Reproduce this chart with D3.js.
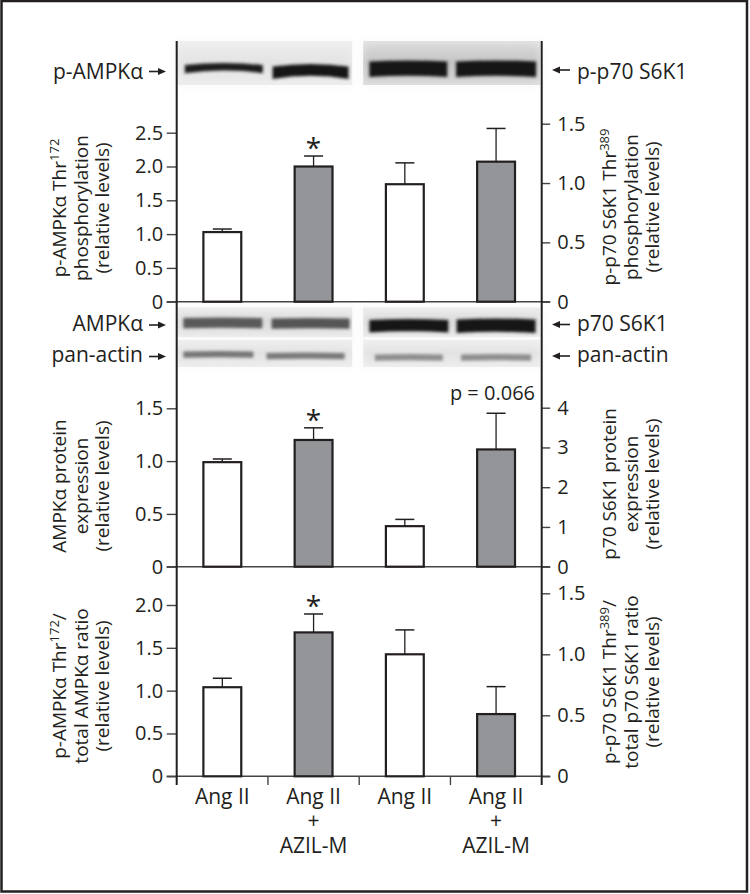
<!DOCTYPE html>
<html>
<head>
<meta charset="utf-8">
<script src="https://cdn.jsdelivr.net/npm/d3@7"></script>
<style>
  html, body { margin: 0; padding: 0; background: #fff; }
  svg { display: block; font-family: "Open Sans", "Noto Sans", sans-serif; }
</style>
</head>
<body>
<svg id="chart" width="750" height="894"></svg>
<script>
// ---------------- DATA ----------------
const categories = ["Ang II", "Ang II|+|AZIL-M", "Ang II", "Ang II|+|AZIL-M"];
const barFill = ["white", "gray", "white", "gray"];
const barAxis = ["left", "left", "right", "right"];

// Panel 1: phosphorylation (left: p-AMPKα, right: p-p70 S6K1)
const p1Values = [1.03, 2.00, 0.99, 1.18];
const p1Errors = [0.045, 0.155, 0.18, 0.28];
const p1LeftTicks = [0, 0.5, 1.0, 1.5, 2.0, 2.5];
const p1LeftLabels = ["0", "0.5", "1.0", "1.5", "2.0", "2.5"];
const p1RightTicks = [0, 0.5, 1.0, 1.5];
const p1RightLabels = ["0", "0.5", "1.0", "1.5"];

// Panel 2: protein expression
const p2Values = [0.99, 1.20, 1.02, 2.95];
const p2Errors = [0.03, 0.115, 0.17, 0.91];
const p2LeftTicks = [0, 0.5, 1.0, 1.5];
const p2LeftLabels = ["0", "0.5", "1.0", "1.5"];
const p2RightTicks = [0, 1, 2, 3, 4];
const p2RightLabels = ["0", "1", "2", "3", "4"];

// Panel 3: ratio
const p3Values = [1.04, 1.68, 1.00, 0.51];
const p3Errors = [0.105, 0.215, 0.20, 0.225];
const p3LeftTicks = [0, 0.5, 1.0, 1.5, 2.0];
const p3LeftLabels = ["0", "0.5", "1.0", "1.5", "2.0"];
const p3RightTicks = [0, 0.5, 1.0, 1.5];
const p3RightLabels = ["0", "0.5", "1.0", "1.5"];

const p1Stars = ["", "*", "", ""];
const p2Stars = ["", "*", "", ""];
const p3Stars = ["", "*", "", ""];
const pValueNote = "p = 0.066";

// ---------------- LAYOUT ----------------
const svg = d3.select("#chart");
const INK = "#231f20";
const GRAY = "#939598";
const xL = 176.7, xR = 541.7;
const axisTop = 41, axisBottom = 785;

const x = d3.scaleBand().domain(d3.range(categories.length)).range([xL, xR]).padding(0);
const barW = x.bandwidth() * 0.415;
const cx = i => x(i) + x.bandwidth() / 2;

// frame
svg.append("rect").attr("x", 1.5).attr("y", 1).attr("width", 745.5).attr("height", 890.5)
  .attr("fill", "none").attr("stroke", INK).attr("stroke-width", 2.5);

// blur filter for blot bands
const defs = svg.append("defs");
const f = defs.append("filter").attr("id", "blur").attr("x", "-20%").attr("y", "-100%").attr("width", "140%").attr("height", "300%");
f.append("feGaussianBlur").attr("stdDeviation", 1.8);
const f2 = defs.append("filter").attr("id", "blur2").attr("x", "-20%").attr("y", "-50%").attr("width", "140%").attr("height", "200%");
f2.append("feGaussianBlur").attr("stdDeviation", 3);

function gradient(id, stops) {
  const g = defs.append("linearGradient").attr("id", id).attr("x1", 0).attr("y1", 0).attr("x2", 0).attr("y2", 1);
  stops.forEach(s => g.append("stop").attr("offset", s[0]).attr("stop-color", s[1]));
}
gradient("bgLight", [[0, "#eeeeee"], [0.5, "#e3e3e3"], [1, "#ececec"]]);
gradient("bgDark", [[0, "#dddddd"], [0.5, "#c4c4c4"], [1, "#d6d6d6"]]);
gradient("bgMid", [[0, "#ebebeb"], [0.5, "#dcdcdc"], [1, "#e8e8e8"]]);

// ---- Blots ----
const blotLeftX = [xL + 0.5, x(2) - 7];
const blotRightX = [x(2) + 4, xR - 1.5];

function blot(x0, x1, y0, y1, bg, lanes) {
  const g = svg.append("g");
  g.append("rect").attr("x", x0).attr("y", y0).attr("width", x1 - x0).attr("height", y1 - y0)
    .attr("fill", `url(#${bg})`);
  // faint lane separator haze
  g.append("rect").attr("x", x0).attr("y", y0).attr("width", x1 - x0).attr("height", y1 - y0)
    .attr("fill", "none").attr("stroke", "#f2f2f2").attr("stroke-width", 2).attr("filter", "url(#blur2)");
  lanes.forEach(l => {
    const xa = l.c - l.w / 2, xb = l.c + l.w / 2, yc = l.y, t = l.t, bend = l.bend || 0;
    const p = d3.path();
    p.moveTo(xa, yc - t / 2 + bend);
    p.quadraticCurveTo((xa + xb) / 2, yc - t / 2 - bend, xb, yc - t / 2 + bend);
    p.lineTo(xb, yc + t / 2 + bend * 1.6);
    p.quadraticCurveTo((xa + xb) / 2, yc + t / 2 - bend, xa, yc + t / 2 + bend * 1.6);
    p.closePath();
    g.append("path").attr("d", p.toString()).attr("fill", l.col).attr("filter", "url(#blur)");
  });
}

// p-AMPKα / p-p70 S6K1 blots
blot(blotLeftX[0], blotLeftX[1], 41, 85, "bgLight", [
  { c: cx(0) + 1.5, w: 78, y: 66.5, t: 7, col: "#1c1c1c", bend: 2 },
  { c: cx(1) - 3, w: 76, y: 69.5, t: 11, col: "#121212", bend: 2.5 }
]);
blot(blotRightX[0], blotRightX[1], 41, 85, "bgDark", [
  { c: cx(2) + 3.5, w: 78, y: 68, t: 15, col: "#141414", bend: 1 },
  { c: cx(3), w: 80, y: 68, t: 15, col: "#121212", bend: 1 }
]);
// AMPKα / p70 S6K1 blots
blot(blotLeftX[0], blotLeftX[1], 307.5, 337, "bgMid", [
  { c: cx(0) + 0.5, w: 79, y: 322.5, t: 10, col: "#5a5a5a", bend: 0.5 },
  { c: cx(1) - 3, w: 78, y: 323, t: 10, col: "#555555", bend: 0.5 }
]);
blot(blotRightX[0], blotRightX[1], 307.5, 337, "bgMid", [
  { c: cx(2) + 4, w: 79, y: 325, t: 12, col: "#121212", bend: 1 },
  { c: cx(3), w: 79, y: 325, t: 13, col: "#121212", bend: 1 }
]);
// pan-actin blots
blot(blotLeftX[0], blotLeftX[1], 340, 367, "bgLight", [
  { c: cx(0) - 4, w: 70, y: 354, t: 6, col: "#767676", bend: 0.5 },
  { c: cx(1) - 8, w: 78, y: 355.5, t: 6, col: "#7a7a7a", bend: 0.5 }
]);
blot(blotRightX[0], blotRightX[1], 340, 367, "bgLight", [
  { c: cx(2) + 4, w: 68, y: 357, t: 6, col: "#8e8e8e", bend: 0.5 },
  { c: cx(3), w: 70, y: 357, t: 6, col: "#8e8e8e", bend: 0.5 }
]);

// blot labels with arrows
function arrow(xTail, xHead, y) {
  const dir = Math.sign(xHead - xTail);
  svg.append("line").attr("x1", xTail).attr("x2", xHead - dir * 5).attr("y1", y).attr("y2", y)
    .attr("stroke", INK).attr("stroke-width", 1.6);
  svg.append("path").attr("d", `M${xHead},${y} L${xHead - dir * 8},${y - 3.6} L${xHead - dir * 8},${y + 3.6} Z`)
    .attr("fill", INK);
}
const leftLabels = [["p-AMPKα", 79, 71.5], ["AMPKα", 331, 325], ["pan-actin", 361.5, 356.5]];
leftLabels.forEach(([t, yb, ya]) => {
  svg.append("text").attr("x", 143).attr("y", yb).attr("text-anchor", "end")
    .attr("font-size", 21).attr("fill", INK).text(t);
  arrow(149, 166, ya);
});
const rightLabels = [["p-p70 S6K1", 78.5, 70], ["p70 S6K1", 331, 324.5], ["pan-actin", 361.5, 356]];
rightLabels.forEach(([t, yb, ya]) => {
  svg.append("text").attr("x", 577).attr("y", yb).attr("text-anchor", "start")
    .attr("font-size", 21).attr("fill", INK).text(t);
  arrow(570, 552, ya);
});

// ---- Panels ----
const panels = [
  { values: p1Values, errors: p1Errors, stars: p1Stars,
    y0: 301.7, lDom: [0, 2.5], lTop: 132.7, rDom: [0, 1.5], rTop: 123.7,
    lTicks: p1LeftTicks, lLabels: p1LeftLabels, rTicks: p1RightTicks, rLabels: p1RightLabels,
    lTitle: [[["p-AMPKα Thr"], ["172", 1]], [["phosphorylation"]], [["(relative levels)"]]], lCy: 208,
    rTitle: [[["p-p70 S6K1 Thr"], ["389", 1]], [["phosphorylation"]], [["(relative levels)"]]], rCy: 207 },
  { values: p2Values, errors: p2Errors, stars: p2Stars,
    y0: 566.7, lDom: [0, 1.5], lTop: 408.3, rDom: [0, 4], rTop: 407.7,
    lTicks: p2LeftTicks, lLabels: p2LeftLabels, rTicks: p2RightTicks, rLabels: p2RightLabels,
    lTitle: [[["AMPKα protein"]], [["expression"]], [["(relative levels)"]]], lCy: 486,
    rTitle: [[["p70 S6K1 protein"]], [["expression"]], [["(relative levels)"]]], rCy: 484 },
  { values: p3Values, errors: p3Errors, stars: p3Stars,
    y0: 776.3, lDom: [0, 2.0], lTop: 605, rDom: [0, 1.5], rTop: 593.3,
    lTicks: p3LeftTicks, lLabels: p3LeftLabels, rTicks: p3RightTicks, rLabels: p3RightLabels,
    lTitle: [[["p-AMPKα Thr"], ["172", 1], ["/", 2]], [["total AMPKα ratio"]], [["(relative levels)"]]], lCy: 686,
    rTitle: [[["p-p70 S6K1 Thr"], ["389", 1], ["/", 2]], [["total p70 S6K1 ratio"]], [["(relative levels)"]]], rCy: 682 }
];

function title(cy, baselines, lines) {
  const g = svg.append("g").attr("transform", `translate(0,${cy}) rotate(-90)`);
  lines.forEach((segs, i) => {
    const t = g.append("text").attr("x", 0).attr("y", baselines[i]).attr("text-anchor", "middle")
      .attr("font-size", 19).attr("fill", INK);
    segs.forEach(([s, kind]) => {
      const ts = t.append("tspan").text(s);
      if (kind === 1) ts.attr("dy", -7).attr("font-size", 13);
      if (kind === 2) ts.attr("dy", 7);
    });
  });
}

panels.forEach(P => {
  const yL = d3.scaleLinear().domain(P.lDom).range([P.y0, P.lTop]);
  const yR = d3.scaleLinear().domain(P.rDom).range([P.y0, P.rTop]);
  const yOf = i => barAxis[i] === "left" ? yL : yR;

  // axes ticks
  const gl = svg.append("g").attr("transform", `translate(${xL},0)`)
    .call(d3.axisLeft(yL).tickValues(P.lTicks).tickFormat((d, i) => P.lLabels[i]).tickSize(10).tickPadding(3.5));
  const gr = svg.append("g").attr("transform", `translate(${xR},0)`)
    .call(d3.axisRight(yR).tickValues(P.rTicks).tickFormat((d, i) => P.rLabels[i]).tickSize(8.5).tickPadding(7));
  [gl, gr].forEach(g => {
    g.select(".domain").remove();
    g.selectAll("line").attr("stroke", "#444").attr("stroke-width", 1.4);
    g.selectAll("text").attr("font-size", 20).attr("fill", INK)
      .attr("font-family", '"Open Sans", "Noto Sans", sans-serif');
  });

  // baseline
  svg.append("line").attr("x1", xL - 10).attr("x2", xR + 8.5).attr("y1", P.y0).attr("y2", P.y0)
    .attr("stroke", "#444").attr("stroke-width", 1.4);

  // error bars (upper only)
  P.values.forEach((v, i) => {
    const y = yOf(i);
    const c = cx(i);
    svg.append("line").attr("x1", c).attr("x2", c).attr("y1", y(v)).attr("y2", y(v + P.errors[i]))
      .attr("stroke", INK).attr("stroke-width", 1.3);
    svg.append("line").attr("x1", c - 9.5).attr("x2", c + 9.5).attr("y1", y(v + P.errors[i])).attr("y2", y(v + P.errors[i]))
      .attr("stroke", INK).attr("stroke-width", 1.5);
  });

  // bars
  svg.append("g").selectAll("rect").data(P.values).join("rect")
    .attr("x", (d, i) => cx(i) - barW / 2)
    .attr("y", (d, i) => yOf(i)(d))
    .attr("width", barW)
    .attr("height", (d, i) => P.y0 - yOf(i)(d))
    .attr("fill", (d, i) => barFill[i] === "gray" ? GRAY : "#fff")
    .attr("stroke", INK).attr("stroke-width", 2.2);

  // stars
  P.stars.forEach((s, i) => {
    if (!s) return;
    const y = yOf(i);
    svg.append("text").attr("x", cx(i)).attr("y", y(P.values[i] + P.errors[i]) + 2)
      .attr("text-anchor", "middle").attr("font-size", 28).attr("fill", INK).text(s);
  });

  title(P.lCy, [66, 87.5, 109], P.lTitle);
  title(P.rCy, [616, 637.5, 659], P.rTitle);
});

// p-value note
svg.append("text").attr("x", 535).attr("y", 400).attr("text-anchor", "end")
  .attr("font-size", 20).attr("fill", INK).text(pValueNote);

// vertical axis lines
[xL, xR].forEach(xx => svg.append("line").attr("x1", xx).attr("x2", xx).attr("y1", axisTop).attr("y2", axisBottom)
  .attr("stroke", INK).attr("stroke-width", 2));

// category ticks at band boundaries
const yBase = panels[2].y0;
d3.range(1, categories.length).forEach(i => {
  svg.append("line").attr("x1", x(i)).attr("x2", x(i)).attr("y1", yBase).attr("y2", axisBottom)
    .attr("stroke", "#444").attr("stroke-width", 1.4);
});

// category labels
categories.forEach((c, i) => {
  const lines = c.split("|");
  const t = svg.append("text").attr("text-anchor", "middle").attr("font-size", 21).attr("fill", INK);
  lines.forEach((l, j) => {
    t.append("tspan").attr("x", cx(i)).attr("y", 804 + j * 24.3).text(l);
  });
});
</script>
</body>
</html>
